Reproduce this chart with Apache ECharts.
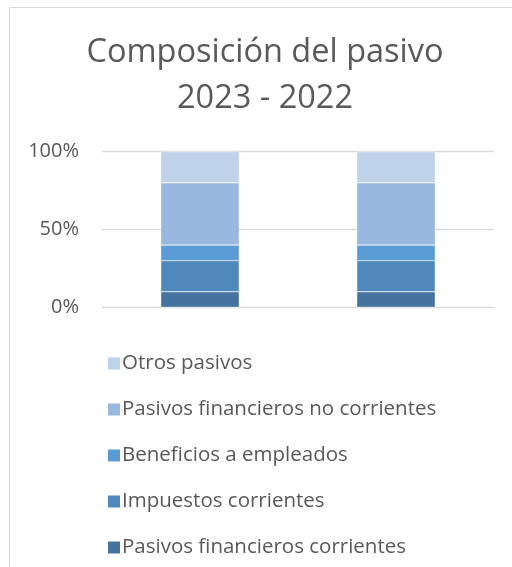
<!DOCTYPE html>
<html>
<head>
<meta charset="utf-8">
<script src="https://cdn.jsdelivr.net/npm/echarts@6/dist/echarts.min.js"></script>
<style>
  html, body { margin: 0; padding: 0; background: #fff; }
  #chart { width: 512px; height: 567px; }
</style>
</head>
<body>
<div id="chart"></div>
<script>
const categories = ['2023', '2022'];
const seriesNames = [
  'Pasivos financieros corrientes',
  'Impuestos corrientes',
  'Beneficios a empleados',
  'Pasivos financieros no corrientes',
  'Otros pasivos'
];
const pasivosFinancierosCorrientes = [10, 10];
const impuestosCorrientes = [20, 20];
const beneficiosEmpleados = [10, 10];
const pasivosFinancierosNoCorrientes = [40, 40];
const otrosPasivos = [20, 20];
const yTicks = ['0%', '50%', '100%'];

const seriesValues = [
  pasivosFinancierosCorrientes,
  impuestosCorrientes,
  beneficiosEmpleados,
  pasivosFinancierosNoCorrientes,
  otrosPasivos
];
const colors = ['#44739F', '#4F89BC', '#5B9BD5', '#98B8DF', '#BED2EA'];
const font = '"Open Sans", "Noto Sans", sans-serif';

const chart = echarts.init(document.getElementById('chart'), null, { renderer: 'canvas' });
chart.setOption({
  animation: false,
  color: colors,
  graphic: [{
    type: 'rect',
    shape: { x: 9.5, y: 7.5, width: 600, height: 700 },
    style: { fill: 'none', stroke: '#d9d9d9', lineWidth: 1 },
    silent: true,
    z: -10
  }],
  title: {
    text: 'Composición del pasivo\n2023 - 2022',
    left: 265,
    textAlign: 'center',
    top: 30,
    padding: 0,
    textStyle: {
      fontFamily: font,
      fontSize: 32.5,
      fontWeight: 'normal',
      color: '#595959',
      lineHeight: 46
    }
  },
  legend: {
    orient: 'vertical',
    left: 101,
    top: 348,
    itemWidth: 14,
    itemHeight: 14,
    itemGap: 25,
    icon: 'rect',
    data: seriesNames.slice().reverse(),
    textStyle: {
      fontFamily: font,
      fontSize: 20.5,
      color: '#595959',
      lineHeight: 20,
      padding: [0, 0, 0, -4]
    }
  },
  grid: {
    left: 102,
    right: 18,
    top: 151.7,
    bottom: 259.7,
    containLabel: false
  },
  xAxis: {
    type: 'category',
    data: categories,
    axisLine: { show: false },
    axisTick: { show: false },
    axisLabel: { show: false }
  },
  yAxis: {
    type: 'value',
    min: 0,
    max: 100,
    interval: 50,
    axisLine: { show: false },
    axisTick: { show: false },
    splitLine: { lineStyle: { color: '#d9d9d9', width: 1.3 } },
    axisLabel: {
      margin: 23,
      fontFamily: font,
      fontSize: 20,
      color: '#595959',
      formatter: function (v) { return yTicks[Math.round(v / 50)]; }
    }
  },
  series: seriesValues.map(function (vals, i) {
    return {
      name: seriesNames[i],
      type: 'bar',
      stack: 'total',
      barWidth: '40%',
      data: vals,
      itemStyle: { borderColor: '#ffffff', borderWidth: 0.4 }
    };
  })
});
</script>
</body>
</html>
